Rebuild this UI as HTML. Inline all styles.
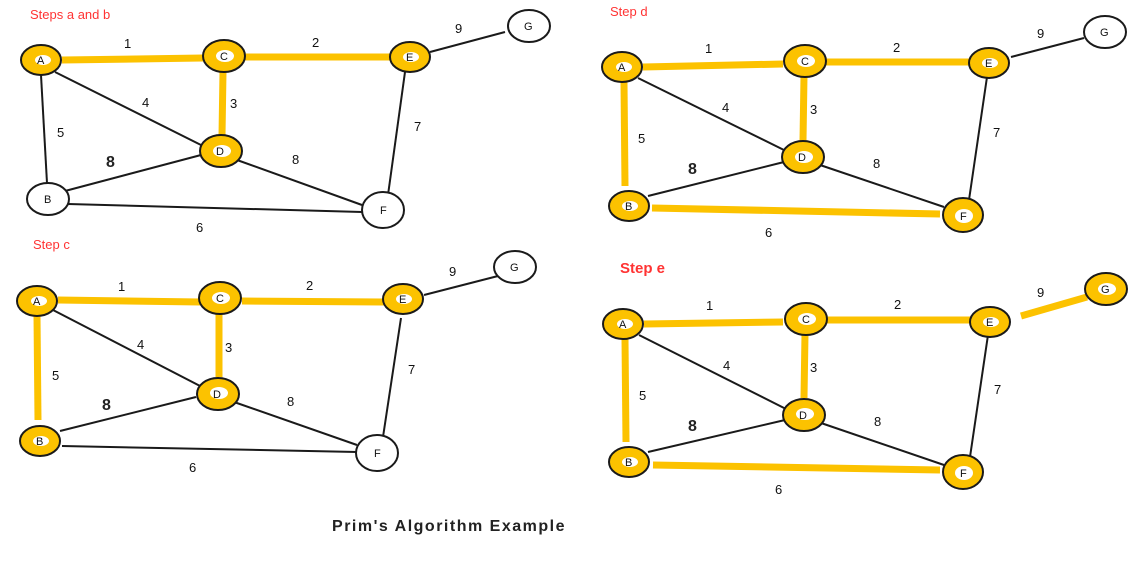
<!DOCTYPE html>
<html><head><meta charset="utf-8"><style>
html,body{margin:0;padding:0;background:#fff;}
svg{display:block;}
text{font-family:"Liberation Sans",sans-serif;}
.lbl{font-size:13px;fill:#111;}
.big{font-size:16px;font-weight:bold;fill:#222;}
.nl{font-size:11px;fill:#111;}
.t{font-size:13px;fill:#f33;}
.k{stroke:#1a1a1a;stroke-width:2;fill:none;}
.y{stroke:#fcc200;stroke-width:7;fill:none;}
.nw{fill:#fff;stroke:#1a1a1a;stroke-width:2;}
.ny{fill:#fcc200;stroke:#1a1a1a;stroke-width:2;}
.in{fill:#fff;}
</style></head><body>
<svg width="1148" height="565" viewBox="0 0 1148 565">
<!-- Panel 1 -->
<text class="t" x="30" y="19">Steps a and b</text>
<line class="y" x1="62" y1="60" x2="203" y2="58"/>
<line class="y" x1="245" y1="57" x2="390" y2="57"/>
<line class="y" x1="223" y1="72" x2="222" y2="136"/>
<line class="k" x1="430" y1="52" x2="505" y2="32"/>
<line class="k" x1="55" y1="72" x2="205" y2="147"/>
<line class="k" x1="41" y1="75" x2="47" y2="183"/>
<line class="k" x1="65" y1="191" x2="201" y2="155"/>
<line class="k" x1="237" y1="160" x2="362" y2="205"/>
<line class="k" x1="68" y1="204" x2="362" y2="212"/>
<line class="k" x1="405" y1="72" x2="388" y2="195"/>
<ellipse class="ny" cx="41" cy="60" rx="20" ry="15"/><ellipse class="in" cx="43" cy="60" rx="8" ry="5"/>
<ellipse class="ny" cx="224" cy="56" rx="21" ry="16"/><ellipse class="in" cx="225" cy="56" rx="9" ry="6"/>
<ellipse class="ny" cx="410" cy="57" rx="20" ry="15"/><ellipse class="in" cx="411" cy="57" rx="8" ry="5"/>
<ellipse class="ny" cx="221" cy="151" rx="21" ry="16"/><ellipse class="in" cx="222" cy="151" rx="9" ry="6"/>
<ellipse class="nw" cx="529" cy="26" rx="21" ry="16"/>
<ellipse class="nw" cx="48" cy="199" rx="21" ry="16"/>
<ellipse class="nw" cx="383" cy="210" rx="21" ry="18"/>
<text class="nl" x="37" y="64">A</text><text class="nl" x="220" y="60">C</text><text class="nl" x="406" y="61">E</text>
<text class="nl" x="216" y="155">D</text><text class="nl" x="524" y="30">G</text><text class="nl" x="44" y="203">B</text><text class="nl" x="380" y="214">F</text>
<text class="lbl" x="124" y="48">1</text><text class="lbl" x="312" y="47">2</text><text class="lbl" x="455" y="33">9</text>
<text class="lbl" x="142" y="107">4</text><text class="lbl" x="230" y="108">3</text><text class="lbl" x="57" y="137">5</text>
<text class="lbl" x="414" y="131">7</text><text class="big" x="106" y="167">8</text><text class="lbl" x="292" y="164">8</text>
<text class="lbl" x="196" y="232">6</text>

<!-- Panel 2 -->
<text class="t" x="33" y="249">Step c</text>
<line class="y" x1="58" y1="300" x2="200" y2="302"/>
<line class="y" x1="242" y1="301" x2="385" y2="302"/>
<line class="y" x1="219" y1="313" x2="219" y2="377"/>
<line class="y" x1="37" y1="316" x2="38" y2="420"/>
<line class="k" x1="424" y1="295" x2="498" y2="276"/>
<line class="k" x1="53" y1="310" x2="202" y2="387"/>
<line class="k" x1="60" y1="431" x2="196" y2="397"/>
<line class="k" x1="234" y1="402" x2="357" y2="445"/>
<line class="k" x1="62" y1="446" x2="357" y2="452"/>
<line class="k" x1="401" y1="318" x2="383" y2="437"/>
<ellipse class="ny" cx="37" cy="301" rx="20" ry="15"/><ellipse class="in" cx="39" cy="301" rx="8" ry="5"/>
<ellipse class="ny" cx="220" cy="298" rx="21" ry="16"/><ellipse class="in" cx="221" cy="298" rx="9" ry="6"/>
<ellipse class="ny" cx="403" cy="299" rx="20" ry="15"/><ellipse class="in" cx="404" cy="299" rx="8" ry="5"/>
<ellipse class="ny" cx="218" cy="394" rx="21" ry="16"/><ellipse class="in" cx="219" cy="393" rx="9" ry="6"/>
<ellipse class="nw" cx="515" cy="267" rx="21" ry="16"/>
<ellipse class="ny" cx="40" cy="441" rx="20" ry="15"/><ellipse class="in" cx="41" cy="441" rx="8" ry="5"/>
<ellipse class="nw" cx="377" cy="453" rx="21" ry="18"/>
<text class="nl" x="33" y="305">A</text><text class="nl" x="216" y="302">C</text><text class="nl" x="399" y="303">E</text>
<text class="nl" x="213" y="398">D</text><text class="nl" x="510" y="271">G</text><text class="nl" x="36" y="445">B</text><text class="nl" x="374" y="457">F</text>
<text class="lbl" x="118" y="291">1</text><text class="lbl" x="306" y="290">2</text><text class="lbl" x="449" y="276">9</text>
<text class="lbl" x="137" y="349">4</text><text class="lbl" x="225" y="352">3</text><text class="lbl" x="52" y="380">5</text>
<text class="lbl" x="408" y="374">7</text><text class="big" x="102" y="410">8</text><text class="lbl" x="287" y="406">8</text>
<text class="lbl" x="189" y="472">6</text>

<!-- Panel 3 -->
<text class="t" x="610" y="16">Step d</text>
<line class="y" x1="643" y1="67" x2="783" y2="64"/>
<line class="y" x1="826" y1="62" x2="970" y2="62"/>
<line class="y" x1="804" y1="76" x2="803" y2="141"/>
<line class="y" x1="624" y1="82" x2="625" y2="186"/>
<line class="y" x1="652" y1="208" x2="940" y2="214"/>
<line class="k" x1="1011" y1="57" x2="1084" y2="38"/>
<line class="k" x1="638" y1="78" x2="788" y2="152"/>
<line class="k" x1="648" y1="196" x2="784" y2="162"/>
<line class="k" x1="820" y1="165" x2="944" y2="207"/>
<line class="k" x1="987" y1="77" x2="969" y2="200"/>
<ellipse class="ny" cx="622" cy="67" rx="20" ry="15"/><ellipse class="in" cx="624" cy="67" rx="8" ry="5"/>
<ellipse class="ny" cx="805" cy="61" rx="21" ry="16"/><ellipse class="in" cx="806" cy="61" rx="9" ry="6"/>
<ellipse class="ny" cx="989" cy="63" rx="20" ry="15"/><ellipse class="in" cx="990" cy="63" rx="8" ry="5"/>
<ellipse class="ny" cx="803" cy="157" rx="21" ry="16"/><ellipse class="in" cx="804" cy="157" rx="9" ry="6"/>
<ellipse class="nw" cx="1105" cy="32" rx="21" ry="16"/>
<ellipse class="ny" cx="629" cy="206" rx="20" ry="15"/><ellipse class="in" cx="630" cy="206" rx="8" ry="5"/>
<ellipse class="ny" cx="963" cy="215" rx="20" ry="17"/><ellipse class="in" cx="964" cy="216" rx="9" ry="7"/>
<text class="nl" x="618" y="71">A</text><text class="nl" x="801" y="65">C</text><text class="nl" x="985" y="67">E</text>
<text class="nl" x="798" y="161">D</text><text class="nl" x="1100" y="36">G</text><text class="nl" x="625" y="210">B</text><text class="nl" x="960" y="220">F</text>
<text class="lbl" x="705" y="53">1</text><text class="lbl" x="893" y="52">2</text><text class="lbl" x="1037" y="38">9</text>
<text class="lbl" x="722" y="112">4</text><text class="lbl" x="810" y="114">3</text><text class="lbl" x="638" y="143">5</text>
<text class="lbl" x="993" y="137">7</text><text class="big" x="688" y="174">8</text><text class="lbl" x="873" y="168">8</text>
<text class="lbl" x="765" y="237">6</text>

<!-- Panel 4 -->
<text x="620" y="273" style="font-size:15px;font-weight:bold;fill:#f33;">Step e</text>
<line class="y" x1="644" y1="324" x2="783" y2="322"/>
<line class="y" x1="827" y1="320" x2="971" y2="320"/>
<line class="y" x1="805" y1="334" x2="804" y2="398"/>
<line class="y" x1="625" y1="339" x2="626" y2="442"/>
<line class="y" x1="653" y1="465" x2="940" y2="470"/>
<line class="y" x1="1021" y1="316" x2="1087" y2="297"/>
<line class="k" x1="639" y1="335" x2="788" y2="410"/>
<line class="k" x1="648" y1="452" x2="785" y2="420"/>
<line class="k" x1="821" y1="423" x2="944" y2="465"/>
<line class="k" x1="988" y1="335" x2="970" y2="457"/>
<ellipse class="ny" cx="623" cy="324" rx="20" ry="15"/><ellipse class="in" cx="625" cy="324" rx="8" ry="5"/>
<ellipse class="ny" cx="806" cy="319" rx="21" ry="16"/><ellipse class="in" cx="807" cy="319" rx="9" ry="6"/>
<ellipse class="ny" cx="990" cy="322" rx="20" ry="15"/><ellipse class="in" cx="991" cy="322" rx="8" ry="5"/>
<ellipse class="ny" cx="804" cy="415" rx="21" ry="16"/><ellipse class="in" cx="805" cy="414" rx="9" ry="6"/>
<ellipse class="ny" cx="1106" cy="289" rx="21" ry="16"/><ellipse class="in" cx="1107" cy="289" rx="9" ry="6"/>
<ellipse class="ny" cx="629" cy="462" rx="20" ry="15"/><ellipse class="in" cx="630" cy="462" rx="8" ry="5"/>
<ellipse class="ny" cx="963" cy="472" rx="20" ry="17"/><ellipse class="in" cx="964" cy="473" rx="9" ry="7"/>
<text class="nl" x="619" y="328">A</text><text class="nl" x="802" y="323">C</text><text class="nl" x="986" y="326">E</text>
<text class="nl" x="799" y="419">D</text><text class="nl" x="1101" y="293">G</text><text class="nl" x="625" y="466">B</text><text class="nl" x="960" y="477">F</text>
<text class="lbl" x="706" y="310">1</text><text class="lbl" x="894" y="309">2</text><text class="lbl" x="1037" y="297">9</text>
<text class="lbl" x="723" y="370">4</text><text class="lbl" x="810" y="372">3</text><text class="lbl" x="639" y="400">5</text>
<text class="lbl" x="994" y="394">7</text><text class="big" x="688" y="431">8</text><text class="lbl" x="874" y="426">8</text>
<text class="lbl" x="775" y="494">6</text>

<text x="449" y="531" text-anchor="middle" style="font-size:16px;font-weight:bold;fill:#222;letter-spacing:1.5px;">Prim's Algorithm Example</text>
</svg>
</body></html>
